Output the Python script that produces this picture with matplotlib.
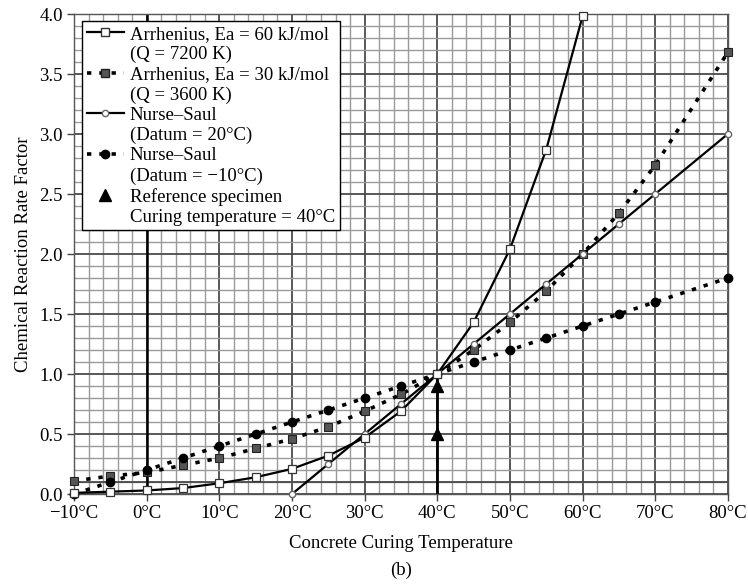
import matplotlib.pyplot as plt
from matplotlib.lines import Line2D
import numpy as np

plt.rcParams['font.family'] = ['Liberation Serif', 'DejaVu Serif']
plt.rcParams['font.size'] = 13.5

# temperatures (°C) and rate factors
t_arr60 = [-10, -5, 0, 5, 10, 15, 20, 25, 30, 35, 40, 45, 50, 55, 60]
k_arr60 = [0.01, 0.02, 0.03, 0.05, 0.09, 0.14, 0.21, 0.32, 0.47, 0.69, 1.0, 1.43, 2.04, 2.87, 3.98]

t_arr30 = [-10, -5, 0, 5, 10, 15, 20, 25, 30, 35, 40, 45, 50, 55, 60, 65, 70, 80]
k_arr30 = [0.11, 0.15, 0.18, 0.24, 0.30, 0.38, 0.46, 0.56, 0.69, 0.83, 1.0, 1.20, 1.43, 1.69, 2.00, 2.34, 2.74, 3.68]

t_ns20 = [20, 25, 30, 35, 40, 45, 50, 55, 60, 65, 70, 80]
k_ns20 = [0.0, 0.25, 0.5, 0.75, 1.0, 1.25, 1.5, 1.75, 2.0, 2.25, 2.5, 3.0]

t_ns10 = [-10, -5, 0, 5, 10, 15, 20, 25, 30, 35, 40, 45, 50, 55, 60, 65, 70, 80]
k_ns10 = [0.0, 0.1, 0.2, 0.3, 0.4, 0.5, 0.6, 0.7, 0.8, 0.9, 1.0, 1.1, 1.2, 1.3, 1.4, 1.5, 1.6, 1.8]

t_ref = [40, 40]
k_ref = [0.5, 0.9]

x_ticks = [-10, 0, 10, 20, 30, 40, 50, 60, 70, 80]
y_ticks = [0.0, 0.5, 1.0, 1.5, 2.0, 2.5, 3.0, 3.5, 4.0]

dot = (0, (1.2, 2.2))

fig = plt.figure(figsize=(7.48, 5.84), dpi=100)
ax = fig.add_axes([0.099, 0.154, 0.874, 0.822])

# graph paper grid
for x in np.arange(-10, 81, 2):
    major = (x % 10 == 0)
    ax.axvline(x, color='#4a4a4a' if major else '#9a9a9a', lw=1.3 if major else 1.0, zorder=0)
for y in np.arange(0, 4.01, 0.1):
    major = abs(y * 2 - round(y * 2)) < 1e-6
    ax.axhline(y, color='#4a4a4a' if major else '#9a9a9a', lw=1.3 if major else 1.0, zorder=0)
ax.axhline(0.1, color='#4a4a4a', lw=1.3, zorder=0)

# reference lines at 0°C and 40°C
ax.axvline(0, color='black', lw=1.8, zorder=1)
ax.vlines(40, 0, 1.0, color='black', lw=2.0, zorder=1)

ax.plot(t_arr30, k_arr30, linestyle=dot, color='black', lw=2.6, marker='s', ms=6,
        mfc='#555555', mec='#222222', mew=0.8, clip_on=False, zorder=3)
ax.plot(t_ns10, k_ns10, linestyle=dot, color='black', lw=2.6, marker='o', ms=6,
        mfc='black', mec='black', clip_on=False, zorder=3)
ax.plot(t_ns20, k_ns20, '-', color='black', lw=1.6, marker='o', ms=4.5,
        mfc='white', mec='#666666', mew=1.0, clip_on=False, zorder=4)
ax.plot(t_arr60, k_arr60, '-', color='black', lw=1.6, marker='s', ms=5.5,
        mfc='white', mec='#333333', mew=0.9, clip_on=False, zorder=5)
ax.plot(t_ref, k_ref, linestyle='none', marker='^', ms=8, color='black', zorder=6)

ax.set_xlim(-10, 80)
ax.set_ylim(0, 4.0)
ax.set_xticks(x_ticks)
ax.set_xticklabels([f'{t}°C'.replace('-', '\u2212') for t in x_ticks])
ax.set_yticks(y_ticks)
ax.set_yticklabels([f'{v:.1f}' for v in y_ticks])
ax.tick_params(direction='out', length=5, width=1.0, color='#444444', labelsize=13.5, pad=3)
for s in ax.spines.values():
    s.set_color('#555555')
    s.set_linewidth(1.0)

ax.set_xlabel('Concrete Curing Temperature', fontsize=13.5, labelpad=9)
ax.set_ylabel('Chemical Reaction Rate Factor', fontsize=13.5, labelpad=5)
fig.text(0.536, 0.024, '(b)', ha='center', va='center', fontsize=13.5)

# legend, each continuation line is its own entry with an empty handle
blank = Line2D([], [], linestyle='none')
handles = [
    Line2D([], [], color='black', lw=1.6, marker='s', ms=5.5, mfc='white', mec='#333333'),
    blank,
    Line2D([], [], color='black', lw=2.6, linestyle=dot, marker='s', ms=6, mfc='#555555', mec='#222222'),
    blank,
    Line2D([], [], color='black', lw=1.6, marker='o', ms=4.5, mfc='white', mec='#666666'),
    blank,
    Line2D([], [], color='black', lw=2.6, linestyle=dot, marker='o', ms=6, mfc='black', mec='black'),
    blank,
    Line2D([], [], linestyle='none', marker='^', ms=8, color='black'),
    blank,
]
labels = [
    'Arrhenius, Ea = 60 kJ/mol', '(Q = 7200 K)',
    'Arrhenius, Ea = 30 kJ/mol', '(Q = 3600 K)',
    'Nurse\u2013Saul', '(Datum = 20°C)',
    'Nurse\u2013Saul', '(Datum = \u221210°C)',
    'Reference specimen', 'Curing temperature = 40°C',
]
leg = ax.legend(handles, labels, loc='upper left', bbox_to_anchor=(0.012, 0.985),
                fontsize=13.5, labelspacing=0.16, handlelength=2.0, handletextpad=0.3,
                borderpad=0.25, borderaxespad=0.0, fancybox=False, framealpha=1.0)
leg.get_frame().set_edgecolor('black')
leg.get_frame().set_linewidth(1.0)
leg.set_zorder(10)

plt.savefig('out.png', dpi=100)
